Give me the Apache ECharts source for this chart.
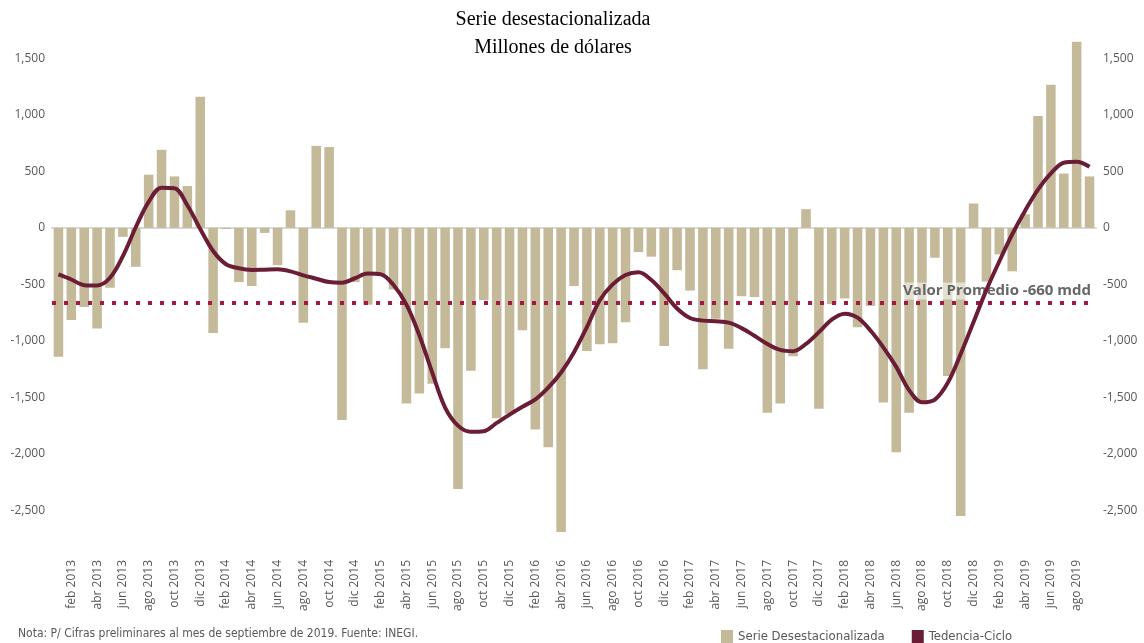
<!DOCTYPE html>
<html>
<head>
<meta charset="utf-8">
<script src="https://cdn.jsdelivr.net/npm/echarts@6/dist/echarts.min.js"></script>
<style>
  html, body { margin: 0; padding: 0; background: #fff; }
  #chart { width: 1144px; height: 643px; }
</style>
</head>
<body>
<div id="chart"></div>
<script>
// Month names and years used for the category axis
const monthNames = ['ene', 'feb', 'mar', 'abr', 'may', 'jun', 'jul', 'ago', 'sep', 'oct', 'nov', 'dic'];
const years = [2013, 2014, 2015, 2016, 2017, 2018, 2019];
const lastMonthIndex = 8; // septiembre 2019

// Serie desestacionalizada (millones de dolares), ene 2013 - sep 2019
const serieDesest = [
  -1140, -815, -700, -890, -530, -80, -345, 470, 690, 455, 370, 1160,
  -930, -10, -480, -515, -45, -330, 155, -840, 725, 715, -1700, -480,
  -680, -420, -545, -1555, -1465, -1380, -1065, -2310, -1265, -640, -1685, -1645,
  -905, -1785, -1940, -2690, -515, -1090, -1030, -1020, -835, -215, -255, -1045,
  -375, -555, -1250, -805, -1070, -605, -612, -1635, -1555, -1135, 165, -1600,
  -675, -625, -880, -690, -1545, -1985, -1635, -1545, -265, -1310, -2550, 215,
  -475, -235, -385, 120, 990, 1265, 480, 1645, 455
];

// Tendencia-ciclo
const tendenciaCiclo = [
  -412, -457, -507, -510, -442, -250, 5, 230, 355, 350, 200, -10,
  -205, -322, -358, -372, -370, -367, -385, -420, -450, -480, -485, -446,
  -405, -411, -506, -680, -950, -1280, -1590, -1750, -1805, -1800, -1726, -1652,
  -1583, -1518, -1414, -1280, -1100, -878, -640, -500, -417, -393, -461, -580,
  -714, -798, -821, -827, -839, -887, -955, -1027, -1080, -1092, -1027, -923,
  -812, -759, -795, -908, -1057, -1230, -1436, -1543, -1519, -1370, -1116, -833,
  -549, -296, -57, 152, 337, 481, 576, 585, 540
];

const promedio = -660;
const yTicks = [-2500, -2000, -1500, -1000, -500, 0, 500, 1000, 1500];

// Build the category labels
const categories = [];
for (const year of years) {
  monthNames.forEach((m, i) => {
    if (year === 2019 && i > lastMonthIndex) return;
    categories.push(m + ' ' + year);
  });
}

const grayText = '#595959';
const narrowFont = '"Liberation Sans Narrow", "DejaVu Sans Condensed", "Liberation Sans", sans-serif';

function yAxisFor(position) {
  return {
    type: 'value',
    position: position,
    min: -2850,
    max: 1750,
    splitLine: { show: false },
    axisLine: { show: false },
    axisTick: { show: false },
    axisLabel: {
      customValues: yTicks,
      color: grayText,
      fontSize: 12,
      fontFamily: '"Open Sans", sans-serif',
      margin: 7,
      formatter: (v) => v.toLocaleString('en-US')
    }
  };
}

const chart = echarts.init(document.getElementById('chart'));

chart.setOption({
  animation: false,
  backgroundColor: '#ffffff',
  grid: { left: 52, right: 48, top: 30, height: 520 },
  graphic: [
    {
      type: 'text',
      x: 553,
      y: 6,
      style: {
        text: 'Serie desestacionalizada\nMillones de dólares',
        font: '20px "Liberation Serif", "Times New Roman", serif',
        lineHeight: 28,
        fill: '#000',
        align: 'center'
      }
    },
    {
      type: 'text',
      x: 18,
      y: 628,
      style: {
        text: 'Nota: P/ Cifras preliminares al mes de septiembre de 2019. Fuente: INEGI.',
        font: '12px ' + narrowFont,
        fill: grayText
      }
    }
  ],
  legend: {
    left: 716,
    top: 625,
    icon: 'rect',
    itemWidth: 12,
    itemHeight: 13,
    itemGap: 27,
    textStyle: { color: grayText, fontSize: 13, fontFamily: narrowFont },
    data: ['Serie Desestacionalizada', 'Tedencia-Ciclo']
  },
  xAxis: {
    type: 'category',
    data: categories,
    axisLine: { lineStyle: { color: '#D9D9D9', width: 2 } },
    axisTick: {
      alignWithLabel: true,
      length: 4,
      interval: (i) => i % 2 === 1,
      lineStyle: { color: '#D9D9D9' }
    },
    axisLabel: {
      rotate: 90,
      interval: (i) => i % 2 === 1,
      color: grayText,
      fontSize: 12,
      fontFamily: '"Open Sans", sans-serif',
      margin: 10
    }
  },
  yAxis: [yAxisFor('left'), yAxisFor('right')],
  series: [
    {
      name: 'Serie Desestacionalizada',
      type: 'bar',
      data: serieDesest,
      barCategoryGap: '26%',
      itemStyle: { color: '#C4BA99' },
      markLine: {
        silent: true,
        symbol: 'none',
        lineStyle: { color: '#A01A43', width: 4, type: [4, 8], cap: 'butt' },
        label: {
          position: 'insideEndTop',
          formatter: 'Valor Promedio -660 mdd',
          color: '#666666',
          fontWeight: 'bold',
          fontSize: 15,
          fontFamily: '"Open Sans", sans-serif',
          backgroundColor: 'rgba(255,255,255,0.55)',
          padding: [1, 2],
          distance: 3
        },
        data: [{ yAxis: promedio }]
      }
    },
    {
      name: 'Tedencia-Ciclo',
      type: 'line',
      data: tendenciaCiclo,
      smooth: 0.35,
      showSymbol: false,
      z: 5,
      lineStyle: { color: '#6B1D35', width: 4 },
      itemStyle: { color: '#6B1D35' }
    }
  ]
});
</script>
</body>
</html>
